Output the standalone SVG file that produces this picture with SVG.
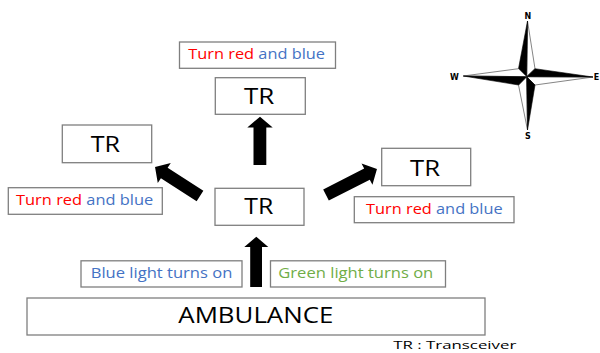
<svg xmlns="http://www.w3.org/2000/svg" width="600" height="353" viewBox="0 0 600 353">
<style>
.box{fill:#fff;stroke:#7f7f7f;stroke-width:1.3}
.tr{font-family:"Open Sans","Liberation Sans",sans-serif;font-size:21px;fill:#000;text-anchor:middle}
.lbl{font-family:"Open Sans","Liberation Sans",sans-serif;font-size:14px}
.red{fill:#ff0000}
.blue{fill:#4472c4}
.green{fill:#70ad47}
.arrow{fill:#000}
.cw{fill:#fff;stroke:#333;stroke-width:0.6;stroke-linejoin:round}
.cb{fill:#000;stroke:#000;stroke-width:0.6;stroke-linejoin:round}
.cl{font-family:"DejaVu Sans",sans-serif;font-weight:bold;font-size:8px;fill:#000;text-anchor:middle}
</style>
<rect width="600" height="353" fill="#fff"/>

<g id="connectors">
<polygon class="arrow" points="253.5,165 253.5,127.5 247.3,127.5 260,116.7 272.7,127.5 266.3,127.5 266.3,165"/>
<polygon class="arrow" points="250.2,287 250.2,247 244.3,247 256.3,236.7 268.3,247 262,247 262,287"/>
<polygon class="arrow" transform="translate(200,196) rotate(-147.2)" points="0,-6.2 42.5,-6.2 42.5,-12 53.5,0 42.5,12 42.5,6.2 0,6.2"/>
<polygon class="arrow" transform="translate(326,195) rotate(-27)" points="0,-6.2 46,-6.2 46,-12 57.2,0 46,12 46,6.2 0,6.2"/>
</g>

<g id="label-top">
<rect class="box" x="179.5" y="42" width="156" height="26.3"/>
<text class="lbl" x="188.3" y="59.3" textLength="136.7" lengthAdjust="spacingAndGlyphs"><tspan class="red">Turn red</tspan><tspan class="blue"> and blue</tspan></text>
</g>
<g id="tr-top">
<rect class="box" x="215.3" y="77.7" width="90" height="36.6"/>
<text class="tr" x="259.2" y="104" textLength="30.3" lengthAdjust="spacingAndGlyphs">TR</text>
</g>
<g id="tr-left">
<rect class="box" x="62.3" y="125" width="89.4" height="37.7"/>
<text class="tr" x="105.4" y="151.7" textLength="29.3" lengthAdjust="spacingAndGlyphs">TR</text>
</g>
<g id="label-left">
<rect class="box" x="8.3" y="187.7" width="154" height="26.6"/>
<text class="lbl" x="16" y="205" textLength="137.3" lengthAdjust="spacingAndGlyphs"><tspan class="red">Turn red</tspan><tspan class="blue"> and blue</tspan></text>
</g>
<g id="tr-center">
<rect class="box" x="215" y="188.3" width="89" height="37"/>
<text class="tr" x="258.8" y="214.3" textLength="29" lengthAdjust="spacingAndGlyphs">TR</text>
</g>
<g id="tr-right">
<rect class="box" x="381.7" y="148.3" width="89" height="37.4"/>
<text class="tr" x="425" y="176" textLength="30" lengthAdjust="spacingAndGlyphs">TR</text>
</g>
<g id="label-right">
<rect class="box" x="354.3" y="196.7" width="159.7" height="26"/>
<text class="lbl" x="366" y="214" textLength="136.7" lengthAdjust="spacingAndGlyphs"><tspan class="red">Turn red</tspan><tspan class="blue"> and blue</tspan></text>
</g>
<g id="label-blue">
<rect class="box" x="81" y="260.8" width="161" height="26.2"/>
<text class="lbl blue" x="90.7" y="278.3" textLength="141.6" lengthAdjust="spacingAndGlyphs">Blue light turns on</text>
</g>
<g id="label-green">
<rect class="box" x="270.5" y="260.8" width="175" height="26.2"/>
<text class="lbl green" x="278.3" y="278.3" textLength="155" lengthAdjust="spacingAndGlyphs">Green light turns on</text>
</g>
<g id="ambulance">
<rect class="box" x="27" y="298" width="458" height="37"/>
<text class="tr" x="255.8" y="323.3" font-size="19" textLength="155" lengthAdjust="spacingAndGlyphs">AMBULANCE</text>
</g>
<g id="legend">
<text x="393.3" y="349.3" font-family="Open Sans, Liberation Sans, sans-serif" font-size="11" fill="#000" textLength="123" lengthAdjust="spacingAndGlyphs">TR : Transceiver</text>
</g>

<g id="compass">
<polygon class="cw" points="527.5,21 535,68.7 526.7,76.7"/>
<polygon class="cb" points="527.5,21 518.5,68.7 526.7,76.7"/>
<polygon class="cw" points="593,77 535,85 526.7,76.7"/>
<polygon class="cb" points="593,77 535,68.7 526.7,76.7"/>
<polygon class="cw" points="527.5,130 518.5,85 526.7,76.7"/>
<polygon class="cb" points="527.5,130 535,85 526.7,76.7"/>
<polygon class="cw" points="463.3,76 518.5,68.7 526.7,76.7"/>
<polygon class="cb" points="463.3,76 518.5,85 526.7,76.7"/>
<text class="cl" x="527.8" y="19">N</text>
<text class="cl" x="527.8" y="139.3">S</text>
<text class="cl" x="454.3" y="79.5">W</text>
<text class="cl" x="596.5" y="79.5">E</text>
</g>
</svg>
